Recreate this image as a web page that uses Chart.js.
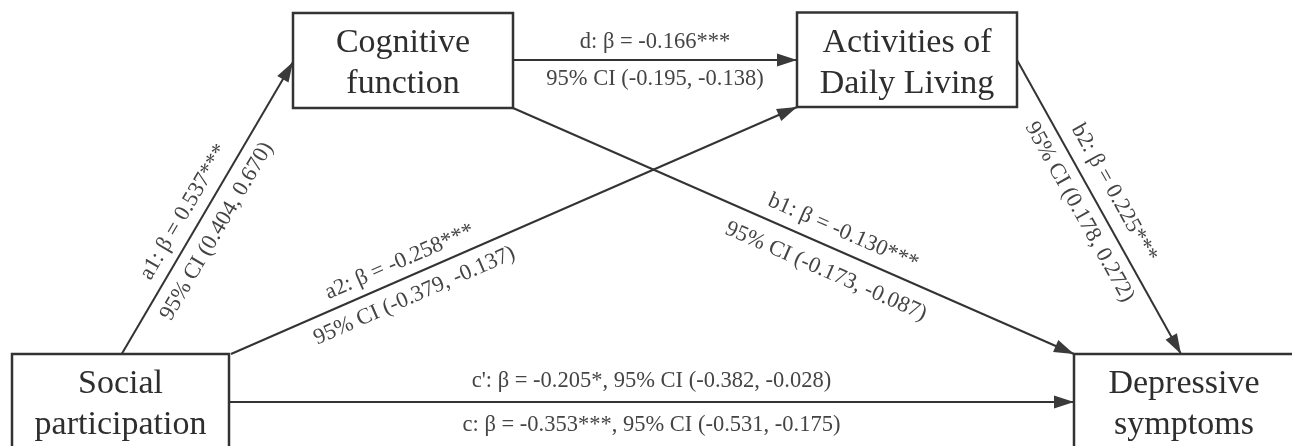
<!DOCTYPE html>
<html><head><meta charset="utf-8">
<script src="https://cdn.jsdelivr.net/npm/chart.js@4/dist/chart.umd.min.js"></script>
<style>html,body{margin:0;padding:0;background:#fff;overflow:hidden}canvas{display:block}</style>
</head><body>
<canvas id="c" width="1292" height="446"></canvas>
<script>
// ---- data ----
const nodeLines = [["Social","participation"],["Cognitive","function"],["Activities of","Daily Living"],["Depressive","symptoms"]];
const pathNames = ["a1","a2","d","b1","b2","c'","c"];
const pathFrom  = [0,0,1,1,2,0,0];
const pathTo    = [1,2,2,3,3,3,3];
const betas     = [0.537,-0.258,-0.166,-0.130,0.225,-0.205,-0.353];
const stars     = ["***","***","***","***","***","*","***"];
const ciLower   = [0.404,-0.379,-0.195,-0.173,0.178,-0.382,-0.531];
const ciUpper   = [0.670,-0.137,-0.138,-0.087,0.272,-0.028,-0.175];

// ---- layout (diagram coordinates) ----
const nodeBox = [[12,354,229,450],[293,13,513,108],[797,12.5,1017,107],[1074,354,1294,450]];
const edgeStart = [[121.7,354],[231,354],[513,60],[513,108],[1017,60],[229,402],[229,402]];
const edgeEnd   = [[293,62],[797,107],[797,60],[1074,354],[1181,354],[1074,402],[1074,402]];
const labelT    = [0.455,0.31,0.5,0.575,0.485,0.5,0.5];
const labelUp   = [18,17,17.5,19,20,21,0];
const labelDown = [-20,-20,-19.5,-24,-19.5,0,-23.5];
const combined  = [false,false,false,false,false,true,true];

const f3 = v => v.toFixed(3);
const betaText = i => pathNames[i] + ": \u03b2 = " + f3(betas[i]) + stars[i];
const ciText = i => "95% CI (" + f3(ciLower[i]) + ", " + f3(ciUpper[i]) + ")";

const lineColor = '#333333';
const datasets = [];
for (let i = 0; i < pathNames.length; i++) {
  if (i === 6) continue; // c shares the line with c'
  datasets.push({
    type:'line',
    data:[{x:edgeStart[i][0],y:edgeStart[i][1]},{x:edgeEnd[i][0],y:edgeEnd[i][1]}],
    showLine:true, borderColor:lineColor, borderWidth:2, pointRadius:0, fill:false, clip:false,
    tension:0
  });
}

const diagramPlugin = {
  id:'diagram',
  afterDatasetsDraw(chart){
    const ctx = chart.ctx, sx = chart.scales.x, sy = chart.scales.y;
    const P = (x,y) => ({x:sx.getPixelForValue(x), y:sy.getPixelForValue(y)});
    ctx.save();
    // arrowheads
    for (let i = 0; i < 6; i++) {
      const a = P(edgeStart[i][0],edgeStart[i][1]), b = P(edgeEnd[i][0],edgeEnd[i][1]);
      const ang = Math.atan2(b.y-a.y, b.x-a.x);
      const len = 20, hw = 6.5;
      ctx.save(); ctx.translate(b.x,b.y); ctx.rotate(ang);
      ctx.beginPath(); ctx.moveTo(0,0); ctx.lineTo(-len,-hw); ctx.lineTo(-len,hw); ctx.closePath();
      ctx.fillStyle = '#3a3a3a'; ctx.fill();
      ctx.restore();
    }
    // boxes
    ctx.font = '34px "Liberation Serif", "Times New Roman", serif';
    ctx.textAlign = 'center'; ctx.textBaseline = 'alphabetic';
    for (let n = 0; n < nodeBox.length; n++) {
      const p0 = P(nodeBox[n][0], nodeBox[n][1]), p1 = P(nodeBox[n][2], nodeBox[n][3]);
      ctx.fillStyle = '#fff';
      ctx.fillRect(p0.x, p0.y, p1.x-p0.x, p1.y-p0.y);
      ctx.strokeStyle = '#333'; ctx.lineWidth = 2.5;
      ctx.strokeRect(p0.x, p0.y, p1.x-p0.x, p1.y-p0.y);
      ctx.fillStyle = '#2e2e2e';
      const cx = (p0.x+p1.x)/2;
      ctx.fillText(nodeLines[n][0], cx, p0.y+39);
      ctx.fillText(nodeLines[n][1], cx, p0.y+80);
    }
    // labels
    ctx.font = '22.5px "Liberation Serif", "Times New Roman", serif';
    ctx.fillStyle = '#444';
    ctx.textBaseline = 'middle';
    const put = (i, off, text) => {
      const a = P(edgeStart[i][0],edgeStart[i][1]), b = P(edgeEnd[i][0],edgeEnd[i][1]);
      const dx = b.x-a.x, dy = b.y-a.y, ang = Math.atan2(dy,dx);
      const ux = Math.sin(ang), uy = -Math.cos(ang);
      const cx = a.x + dx*labelT[i] + ux*off, cy = a.y + dy*labelT[i] + uy*off;
      ctx.save(); ctx.translate(cx,cy); ctx.rotate(ang); ctx.fillText(text,0,0); ctx.restore();
    };
    for (let i = 0; i < pathNames.length; i++) {
      if (combined[i]) {
        const off = labelUp[i] !== 0 ? labelUp[i] : labelDown[i];
        put(i, off, betaText(i) + ", " + ciText(i));
      } else {
        put(i, labelUp[i], betaText(i));
        put(i, labelDown[i], ciText(i));
      }
    }
    ctx.restore();
  }
};

new Chart(document.getElementById('c'), {
  type:'scatter',
  data:{datasets},
  options:{
    responsive:false, animation:false, devicePixelRatio:1,
    layout:{padding:0},
    plugins:{legend:{display:false}, tooltip:{enabled:false}},
    events:[],
    scales:{
      x:{type:'linear', min:0, max:1292, display:false},
      y:{type:'linear', min:0, max:446, reverse:true, display:false}
    }
  },
  plugins:[diagramPlugin]
});
</script>
</body></html>
